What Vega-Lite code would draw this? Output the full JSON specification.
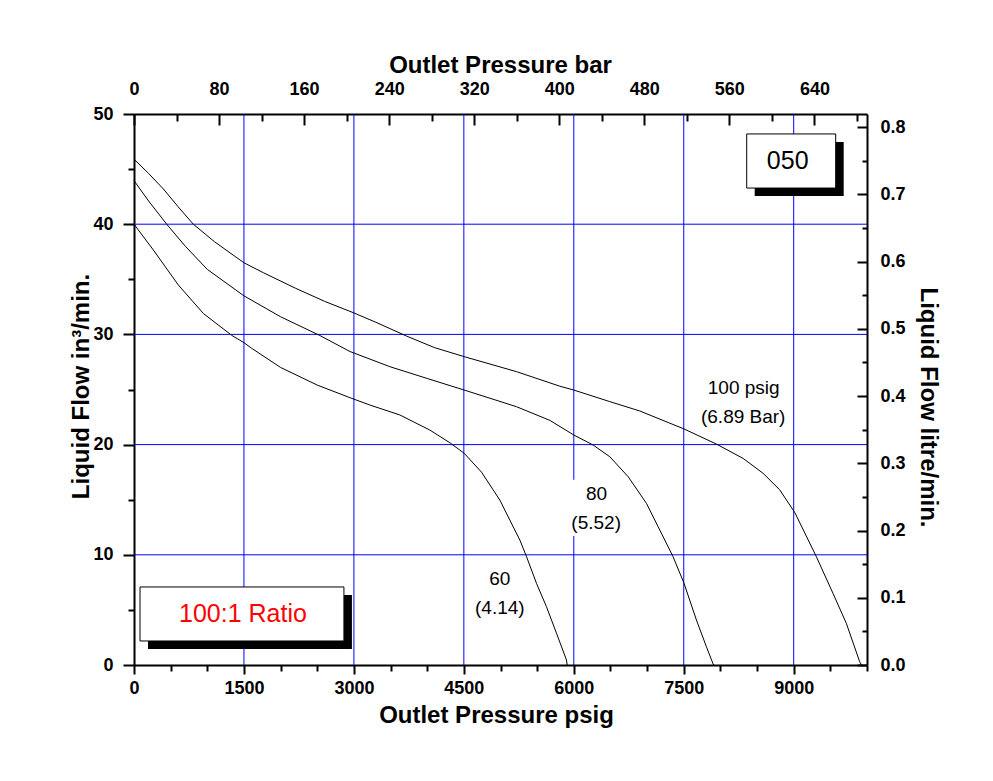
{
  "$schema": "https://vega.github.io/schema/vega-lite/v6.json",
  "width": 733,
  "height": 551,
  "autosize": {"type": "none"},
  "padding": {"left": 134, "top": 114, "right": 126, "bottom": 116},
  "background": "white",
  "config": {
    "view": {"stroke": null},
    "font": "Liberation Sans",
    "axis": {"grid": false, "labelFlush": false, "labelOverlap": false, "domainColor": "black", "domainWidth": 2, "tickColor": "black", "tickWidth": 2, "labelColor": "black", "labelFont": "Liberation Sans", "labelFontSize": 18, "labelFontWeight": "bold", "titleColor": "black", "titleFont": "Liberation Sans", "titleFontSize": 24, "titleFontWeight": "bold"}
  },
  "datasets": {
    "curves": [
      {"series": "100", "psig": 0, "flow": 45.9},
      {"series": "100", "psig": 200, "flow": 44.6},
      {"series": "100", "psig": 400, "flow": 43.2},
      {"series": "100", "psig": 600, "flow": 41.6},
      {"series": "100", "psig": 809, "flow": 40.0},
      {"series": "100", "psig": 1100, "flow": 38.4},
      {"series": "100", "psig": 1500, "flow": 36.5},
      {"series": "100", "psig": 1764, "flow": 35.6},
      {"series": "100", "psig": 2200, "flow": 34.2},
      {"series": "100", "psig": 2600, "flow": 33.0},
      {"series": "100", "psig": 3000, "flow": 31.95},
      {"series": "100", "psig": 3300, "flow": 31.1},
      {"series": "100", "psig": 3718, "flow": 29.85},
      {"series": "100", "psig": 4100, "flow": 28.8},
      {"series": "100", "psig": 4505, "flow": 27.98},
      {"series": "100", "psig": 5218, "flow": 26.62},
      {"series": "100", "psig": 5809, "flow": 25.3},
      {"series": "100", "psig": 6000, "flow": 24.95},
      {"series": "100", "psig": 6491, "flow": 23.9},
      {"series": "100", "psig": 6900, "flow": 23.05},
      {"series": "100", "psig": 7504, "flow": 21.42},
      {"series": "100", "psig": 7945, "flow": 20.05},
      {"series": "100", "psig": 8309, "flow": 18.75},
      {"series": "100", "psig": 8582, "flow": 17.4},
      {"series": "100", "psig": 8809, "flow": 15.9},
      {"series": "100", "psig": 9018, "flow": 13.8},
      {"series": "100", "psig": 9309, "flow": 9.83},
      {"series": "100", "psig": 9536, "flow": 6.5},
      {"series": "100", "psig": 9718, "flow": 3.78},
      {"series": "100", "psig": 9900, "flow": 0.3},
      {"series": "100", "psig": 9925, "flow": 0},
      {"series": "80", "psig": 0, "flow": 43.95},
      {"series": "80", "psig": 200, "flow": 42.1},
      {"series": "80", "psig": 446, "flow": 40.0},
      {"series": "80", "psig": 700, "flow": 38.0},
      {"series": "80", "psig": 1000, "flow": 35.9},
      {"series": "80", "psig": 1500, "flow": 33.5},
      {"series": "80", "psig": 2000, "flow": 31.6},
      {"series": "80", "psig": 2536, "flow": 29.9},
      {"series": "80", "psig": 2945, "flow": 28.45},
      {"series": "80", "psig": 3491, "flow": 27.07},
      {"series": "80", "psig": 4000, "flow": 26.0},
      {"series": "80", "psig": 4505, "flow": 24.95},
      {"series": "80", "psig": 5218, "flow": 23.44},
      {"series": "80", "psig": 5673, "flow": 22.2},
      {"series": "80", "psig": 6000, "flow": 20.87},
      {"series": "80", "psig": 6264, "flow": 19.96},
      {"series": "80", "psig": 6491, "flow": 18.9},
      {"series": "80", "psig": 6741, "flow": 17.09},
      {"series": "80", "psig": 6991, "flow": 14.67},
      {"series": "80", "psig": 7150, "flow": 12.55},
      {"series": "80", "psig": 7354, "flow": 9.83},
      {"series": "80", "psig": 7504, "flow": 7.41},
      {"series": "80", "psig": 7673, "flow": 4.08},
      {"series": "80", "psig": 7809, "flow": 1.66},
      {"series": "80", "psig": 7900, "flow": 0.1},
      {"series": "80", "psig": 7910, "flow": 0},
      {"series": "60", "psig": 0, "flow": 40.0},
      {"series": "60", "psig": 264, "flow": 37.66},
      {"series": "60", "psig": 605, "flow": 34.48},
      {"series": "60", "psig": 946, "flow": 31.9},
      {"series": "60", "psig": 1332, "flow": 29.92},
      {"series": "60", "psig": 1500, "flow": 29.25},
      {"series": "60", "psig": 1605, "flow": 28.74},
      {"series": "60", "psig": 2000, "flow": 27.0},
      {"series": "60", "psig": 2500, "flow": 25.4},
      {"series": "60", "psig": 2945, "flow": 24.26},
      {"series": "60", "psig": 3218, "flow": 23.59},
      {"series": "60", "psig": 3627, "flow": 22.69},
      {"series": "60", "psig": 4036, "flow": 21.32},
      {"series": "60", "psig": 4309, "flow": 20.17},
      {"series": "60", "psig": 4505, "flow": 19.21},
      {"series": "60", "psig": 4741, "flow": 17.5},
      {"series": "60", "psig": 4991, "flow": 14.97},
      {"series": "60", "psig": 5127, "flow": 13.16},
      {"series": "60", "psig": 5264, "flow": 11.34},
      {"series": "60", "psig": 5355, "flow": 9.83},
      {"series": "60", "psig": 5491, "flow": 7.41},
      {"series": "60", "psig": 5627, "flow": 5.29},
      {"series": "60", "psig": 5764, "flow": 2.88},
      {"series": "60", "psig": 5900, "flow": 0.45},
      {"series": "60", "psig": 5910, "flow": 0}
    ],
    "gridV": [{"gx": 1500}, {"gx": 3000}, {"gx": 4500}, {"gx": 6000}, {"gx": 7500}, {"gx": 9000}],
    "gridH": [{"gy": 10}, {"gy": 20}, {"gy": 30}, {"gy": 40}],
    "mask": [{"x1": 5900, "x2": 6700, "y1": 11.7, "y2": 16.8}],
    "boxes": [
      {"label": "050", "x1": 8359, "x2": 9573, "y1": 48.19, "y2": 43.28, "cx": 8918, "cy": 45.73},
      {"label": "100:1 Ratio", "x1": 82, "x2": 2864, "y1": 7.08, "y2": 2.18, "cx": 1486, "cy": 4.63}
    ],
    "labels": [
      {"text": "100 psig", "lx": 8318, "ly": 25.18},
      {"text": "(6.89 Bar)", "lx": 8311, "ly": 22.46},
      {"text": "80", "lx": 6310, "ly": 15.55},
      {"text": "(5.52)", "lx": 6305, "ly": 12.91},
      {"text": "60", "lx": 4989, "ly": 7.77},
      {"text": "(4.14)", "lx": 4991, "ly": 5.2}
    ]
  },
  "resolve": {"axis": {"x": "independent", "y": "independent"}},
  "layer": [
    {
      "data": {"name": "gridV"},
      "mark": {"type": "rule", "color": "#0000ff", "strokeWidth": 1},
      "encoding": {
        "x": {
          "field": "gx", "type": "quantitative",
          "scale": {"domain": [0, 10000], "nice": false, "zero": false},
          "axis": {
            "orient": "top",
            "title": "Outlet Pressure bar",
            "values": [0, 580.15, 1160.3, 1740.46, 2320.61, 2900.76, 3480.91, 4061.06, 4641.22, 5221.37, 5801.52, 6381.67, 6961.82, 7541.98, 8122.13, 8702.28, 9282.43, 9862.58],
            "labelExpr": "round(datum.value / 14.5038) % 80 === 0 ? format(round(datum.value / 14.5038), 'd') : ''",
            "tickSize": {"condition": {"test": "round(datum.value / 14.5038) % 80 === 0", "value": -11}, "value": -7},
            "labelPadding": 27,
            "titleX": 366,
            "titleY": -42,
            "titleAlign": "center",
            "titleBaseline": "alphabetic"
          }
        }
      }
    },
    {
      "data": {"name": "gridH"},
      "mark": {"type": "rule", "color": "#0000ff", "strokeWidth": 1},
      "encoding": {
        "y": {
          "field": "gy", "type": "quantitative",
          "scale": {"domain": [0, 50], "nice": false, "zero": false},
          "axis": {
            "orient": "right",
            "title": "Liquid Flow litre/min.",
            "values": [0, 3.0512, 6.1024, 9.1536, 12.2047, 15.2559, 18.3071, 21.3583, 24.4095, 27.4607, 30.5119, 33.563, 36.6142, 39.6654, 42.7166, 45.7678, 48.819],
            "labelExpr": "round(datum.value * 0.016387064 * 20) % 2 === 0 ? format(datum.value * 0.016387064, '.1f') : ''",
            "tickSize": {"condition": {"test": "round(datum.value * 0.016387064 * 20) % 2 === 0", "value": -10}, "value": -5},
            "labelPadding": 23,
            "titleAngle": 90,
            "titleX": 53,
            "titleY": 293,
            "titleAlign": "center",
            "titleBaseline": "alphabetic"
          }
        }
      }
    },
    {
      "data": {"name": "gridV"},
      "mark": {"type": "rule", "opacity": 0},
      "encoding": {
        "x": {
          "field": "gx", "type": "quantitative",
          "axis": {
            "orient": "bottom",
            "title": "Outlet Pressure psig",
            "values": [0, 500, 1000, 1500, 2000, 2500, 3000, 3500, 4000, 4500, 5000, 5500, 6000, 6500, 7000, 7500, 8000, 8500, 9000, 9500, 10000],
            "labelExpr": "datum.value % 1500 === 0 ? format(datum.value, 'd') : ''",
            "tickSize": {"condition": {"test": "datum.value % 1500 === 0", "value": 9}, "value": 6},
            "labelPadding": 5,
            "titleX": 362,
            "titleY": 57,
            "titleAlign": "center",
            "titleBaseline": "alphabetic"
          }
        }
      }
    },
    {
      "data": {"name": "gridH"},
      "mark": {"type": "rule", "opacity": 0},
      "encoding": {
        "y": {
          "field": "gy", "type": "quantitative",
          "axis": {
            "orient": "left",
            "title": "Liquid Flow in³/min.",
            "values": [0, 5, 10, 15, 20, 25, 30, 35, 40, 45, 50],
            "labelExpr": "datum.value % 10 === 0 ? format(datum.value, 'd') : ''",
            "tickSize": {"condition": {"test": "datum.value % 10 === 0", "value": 11}, "value": 6},
            "labelPadding": 10,
            "titleAngle": -90,
            "titleX": -46,
            "titleY": 272,
            "titleAlign": "center",
            "titleBaseline": "alphabetic"
          }
        }
      }
    },
    {
      "data": {"name": "mask"},
      "mark": {"type": "rect", "fill": "white"},
      "encoding": {
        "x": {"field": "x1", "type": "quantitative", "axis": null},
        "x2": {"field": "x2"},
        "y": {"field": "y1", "type": "quantitative", "axis": null},
        "y2": {"field": "y2"}
      }
    },
    {
      "data": {"name": "boxes"},
      "mark": {"type": "rect", "fill": "black", "xOffset": 8, "x2Offset": 8, "yOffset": 8, "y2Offset": 8},
      "encoding": {
        "x": {"field": "x1", "type": "quantitative", "axis": null},
        "x2": {"field": "x2"},
        "y": {"field": "y1", "type": "quantitative", "axis": null},
        "y2": {"field": "y2"}
      }
    },
    {
      "data": {"name": "boxes"},
      "mark": {"type": "rect", "fill": "white", "stroke": "black", "strokeWidth": 1},
      "encoding": {
        "x": {"field": "x1", "type": "quantitative", "axis": null},
        "x2": {"field": "x2"},
        "y": {"field": "y1", "type": "quantitative", "axis": null},
        "y2": {"field": "y2"}
      }
    },
    {
      "data": {"name": "boxes"},
      "mark": {"type": "text", "fontSize": 25, "font": "Liberation Sans", "align": "center", "baseline": "middle"},
      "encoding": {
        "x": {"field": "cx", "type": "quantitative", "axis": null},
        "y": {"field": "cy", "type": "quantitative", "axis": null},
        "text": {"field": "label"},
        "color": {"field": "label", "type": "nominal", "scale": {"domain": ["050", "100:1 Ratio"], "range": ["black", "#ff0000"]}, "legend": null}
      }
    },
    {
      "data": {"name": "curves"},
      "mark": {"type": "line", "color": "black", "strokeWidth": 1},
      "encoding": {
        "x": {"field": "psig", "type": "quantitative", "axis": null},
        "y": {"field": "flow", "type": "quantitative", "axis": null},
        "detail": {"field": "series"}
      }
    },
    {
      "data": {"name": "labels"},
      "mark": {"type": "text", "fontSize": 19, "font": "Liberation Sans", "color": "black", "align": "center", "baseline": "middle"},
      "encoding": {
        "x": {"field": "lx", "type": "quantitative", "axis": null},
        "y": {"field": "ly", "type": "quantitative", "axis": null},
        "text": {"field": "text"}
      }
    }
  ]
}
